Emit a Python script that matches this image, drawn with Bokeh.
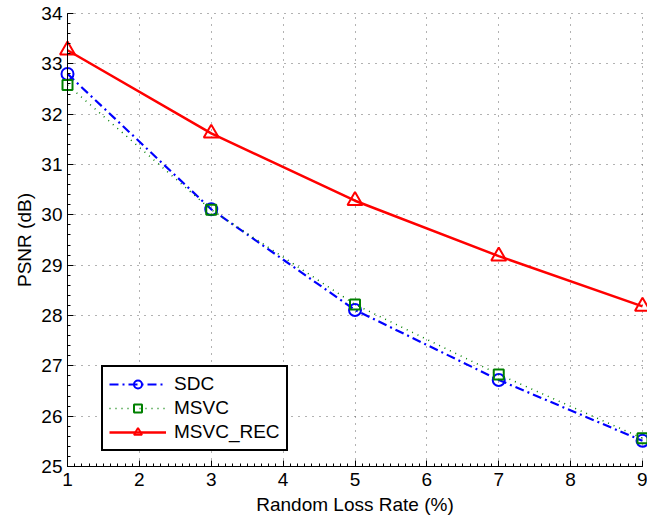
import math
from bokeh.plotting import figure
from bokeh.models import Range1d, SingleIntervalTicker, Legend, LegendItem, Label
from bokeh.embed import file_html
from bokeh.resources import INLINE

# Data
loss_rate = [1, 3, 5, 7, 9]
sdc = [32.80, 30.11, 28.11, 26.72, 25.51]
msvc = [32.58, 30.10, 28.22, 26.83, 25.56]
msvc_rec = [33.27, 31.62, 30.28, 29.18, 28.18]

x_label = "Random Loss Rate (%)"
y_label = "PSNR (dB)"
series_names = ["SDC", "MSVC", "MSVC_REC"]
x_lo, x_hi = 1, 9
y_lo, y_hi = 25, 34

FONT = "Liberation Sans"
FS = "19px"

W, H = 647, 520
# axes box in pixels: x 67..642, y 13..466; the frame covers the whole canvas
# so that end markers and axis texts are not clipped
ax_l, ax_r, ax_t, ax_b = 67, 642, 13, 466
ppx = (ax_r - ax_l) / (x_hi - x_lo)
ppy = (ax_b - ax_t) / (y_hi - y_lo)

p = figure(width=W, height=H, output_backend="svg", toolbar_location=None,
           x_range=Range1d(x_lo - ax_l / ppx, x_hi + (W - ax_r) / ppx),
           y_range=Range1d(y_lo - (H - ax_b) / ppy, y_hi + ax_t / ppy),
           min_border_left=0, min_border_right=0, min_border_top=0, min_border_bottom=0)
p.outline_line_color = None
p.background_fill_color = "white"
p.border_fill_color = "white"

# axes
p.xaxis.ticker = SingleIntervalTicker(interval=1, num_minor_ticks=10)
p.yaxis.ticker = SingleIntervalTicker(interval=1, num_minor_ticks=5)
for ax in (p.xaxis[0], p.yaxis[0]):
    ax.axis_line_color = "black"
    ax.axis_line_width = 1
    ax.major_tick_in = 6
    ax.major_tick_out = 0
    ax.minor_tick_in = 3
    ax.minor_tick_out = 0
    ax.major_tick_line_color = "black"
    ax.minor_tick_line_color = "black"
    ax.major_label_text_font = FONT
    ax.major_label_text_font_size = FS
    ax.major_label_text_color = "black"
p.xaxis.bounds = (x_lo, x_hi)
p.yaxis.bounds = (y_lo, y_hi)
p.xaxis.fixed_location = y_lo
p.yaxis.fixed_location = x_lo
p.xaxis.major_label_standoff = 6
p.yaxis.major_label_standoff = 5

# axis titles, centred on the axes box
p.add_layout(Label(x=(x_lo + x_hi) / 2, y=y_lo, y_offset=-27, text=x_label,
                   text_align="center", text_baseline="top",
                   text_font=FONT, text_font_size=FS, text_color="black"))
p.add_layout(Label(x=x_lo, y=(y_lo + y_hi) / 2, x_offset=-43, text=y_label,
                   angle=math.pi / 2, text_align="center", text_baseline="middle",
                   text_font=FONT, text_font_size=FS, text_color="black"))

# grid
for g in (p.xgrid[0], p.ygrid[0]):
    g.grid_line_color = "#555555"
    g.grid_line_width = 1
    g.grid_line_dash = "1 6"
    g.grid_line_alpha = 0.9
p.xgrid.bounds = (x_lo, x_hi)
p.xgrid.cross_bounds = (y_lo, y_hi)
p.ygrid.bounds = (y_lo, y_hi)
p.ygrid.cross_bounds = (x_lo, x_hi)

# series
r1l = p.line(loss_rate, sdc, line_color="#0000ff", line_width=2.2, line_dash="9 4 2 4")
r1m = p.scatter(loss_rate, sdc, marker="circle", size=12, line_color="#0000ff",
                line_width=2, fill_color=None)
r2l = p.line(loss_rate, msvc, line_color="#008000", line_width=1.5, line_dash="1 5")
r2m = p.scatter(loss_rate, msvc, marker="square", size=10, line_color="#008000",
                line_width=2, fill_color=None)
r3l = p.line(loss_rate, msvc_rec, line_color="#ff0000", line_width=2.5)
r3m = p.scatter(loss_rate, msvc_rec, marker="triangle", size=15, line_color="#ff0000",
                line_width=2, fill_color=None)

legend = Legend(items=[
    LegendItem(label=series_names[0], renderers=[r1l, r1m]),
    LegendItem(label=series_names[1], renderers=[r2l, r2m]),
    LegendItem(label=series_names[2], renderers=[r3l, r3m]),
], location=(101, 69))
legend.border_line_color = "black"
legend.border_line_alpha = 1
legend.border_line_width = 2
legend.background_fill_color = "white"
legend.background_fill_alpha = 1
legend.label_text_font = FONT
legend.label_text_font_size = FS
legend.label_text_color = "black"
legend.glyph_width = 57
legend.glyph_height = 20
legend.label_height = 20
legend.label_standoff = 8
legend.spacing = 2
legend.padding = 6
legend.margin = 0
p.add_layout(legend, "center")

open("out.html", "w").write(file_html(p, INLINE))
